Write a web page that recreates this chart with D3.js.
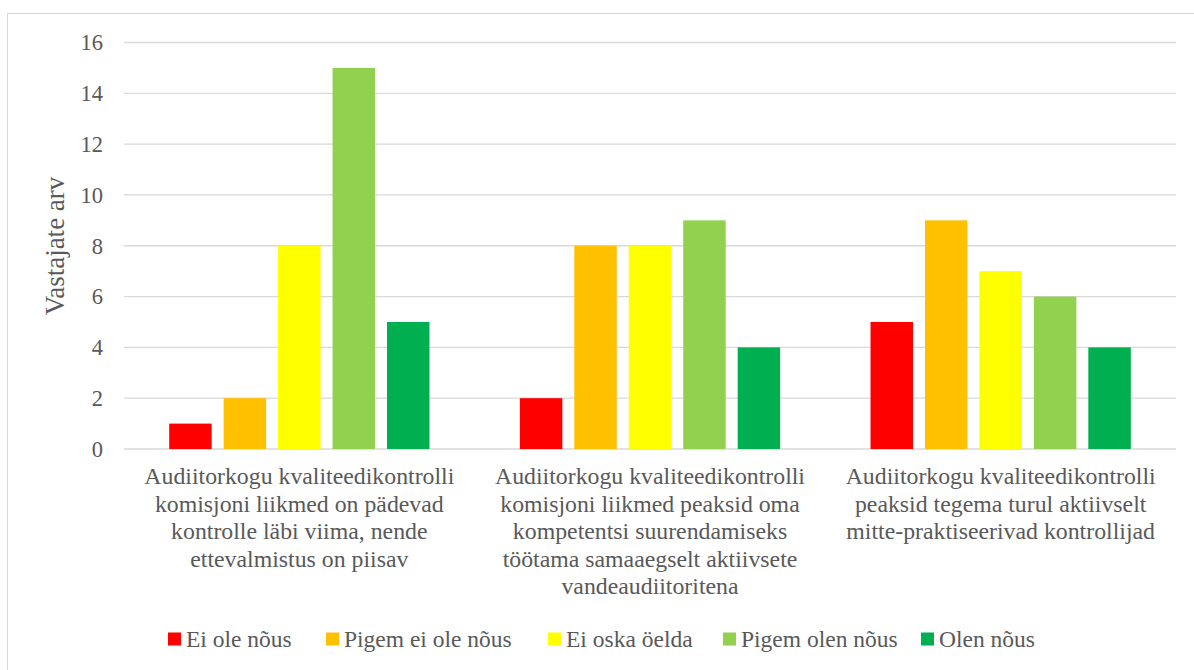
<!DOCTYPE html>
<html>
<head>
<meta charset="utf-8">
<script src="https://cdn.jsdelivr.net/npm/d3@7"></script>
<style>
body { margin: 0; background: #fff; }
</style>
</head>
<body>
<script>
var categories = [
  ["Audiitorkogu kvaliteedikontrolli", "komisjoni liikmed on pädevad", "kontrolle läbi viima, nende", "ettevalmistus on piisav"],
  ["Audiitorkogu kvaliteedikontrolli", "komisjoni liikmed peaksid oma", "kompetentsi suurendamiseks", "töötama samaaegselt aktiivsete", "vandeaudiitoritena"],
  ["Audiitorkogu kvaliteedikontrolli", "peaksid tegema turul aktiivselt", "mitte-praktiseerivad kontrollijad"]
];
var seriesNames = ["Ei ole nõus", "Pigem ei ole nõus", "Ei oska öelda", "Pigem olen nõus", "Olen nõus"];
var seriesColors = ["#FF0000", "#FFC000", "#FFFF00", "#92D050", "#00B050"];
var values = [
  [1, 2, 8, 15, 5],
  [2, 8, 8, 9, 4],
  [5, 9, 7, 6, 4]
];
var yTicks = [0, 2, 4, 6, 8, 10, 12, 14, 16];

(function drawChart() {
var W = 1194, H = 670;
var pLeft = 124, pRight = 1176, pTop = 42.5, pBottom = 449;
var FONT = "'Liberation Serif', 'Times New Roman', serif";
var TXT = "#595959";

var svg = d3.select("body").append("svg")
  .attr("width", W)
  .attr("height", H)
  .attr("font-family", FONT);

// chart border
svg.append("rect")
  .attr("x", 7.5).attr("y", 13.5)
  .attr("width", W).attr("height", H)
  .attr("fill", "none").attr("stroke", "#d9d9d9");

var y = d3.scaleLinear().domain([0, 16]).range([pBottom, pTop]);
var x0 = d3.scaleBand().domain(d3.range(categories.length)).range([pLeft, pRight]);
var x1 = d3.scaleBand().domain(d3.range(seriesNames.length))
  .range([0, x0.bandwidth()]).paddingInner(0.22).paddingOuter(0.83);

// gridlines
svg.selectAll(".grid")
  .data(yTicks)
  .enter().append("line")
  .attr("x1", pLeft).attr("x2", pRight)
  .attr("y1", function(d) { return y(d); })
  .attr("y2", function(d) { return y(d); })
  .attr("stroke", "#d9d9d9").attr("stroke-width", 1.3);

// y tick labels
svg.selectAll(".ytick")
  .data(yTicks)
  .enter().append("text")
  .attr("x", 103)
  .attr("y", function(d) { return y(d); })
  .attr("dy", "0.35em")
  .attr("text-anchor", "end")
  .attr("fill", TXT)
  .attr("font-size", 22.5)
  .text(function(d) { return d; });

// y axis title
svg.append("text")
  .attr("transform", "translate(64,246) rotate(-90)")
  .attr("text-anchor", "middle")
  .attr("fill", TXT)
  .attr("font-size", 27)
  .text("Vastajate arv");

// bars
var groups = svg.selectAll(".grp")
  .data(values)
  .enter().append("g")
  .attr("transform", function(d, i) { return "translate(" + x0(i) + ",0)"; });

groups.selectAll("rect")
  .data(function(d) { return d; })
  .enter().append("rect")
  .attr("x", function(d, j) { return x1(j); })
  .attr("y", function(d) { return y(d); })
  .attr("width", x1.bandwidth())
  .attr("height", function(d) { return pBottom - y(d); })
  .attr("fill", function(d, j) { return seriesColors[j]; });

// category labels
svg.selectAll(".cat")
  .data(categories)
  .enter().append("text")
  .attr("text-anchor", "middle")
  .attr("fill", TXT)
  .attr("font-size", 23.8)
  .each(function(lines, i) {
    var t = d3.select(this);
    lines.forEach(function(l, k) {
      t.append("tspan")
        .attr("x", x0(i) + x0.bandwidth() / 2)
        .attr("y", 484 + k * 27.6)
        .text(l);
    });
  });

// legend
var legendX = [168, 326, 548, 723, 921];
var leg = svg.selectAll(".leg")
  .data(seriesNames)
  .enter().append("g")
  .attr("transform", function(d, i) { return "translate(" + legendX[i] + ",639)"; });
leg.append("rect")
  .attr("x", 0).attr("y", -6.5)
  .attr("width", 13).attr("height", 13)
  .attr("fill", function(d, i) { return seriesColors[i]; });
leg.append("text")
  .attr("x", 18).attr("y", 0)
  .attr("dy", "0.35em")
  .attr("fill", TXT)
  .attr("font-size", 23.5)
  .text(function(d) { return d; });
})();
</script>
</body>
</html>
